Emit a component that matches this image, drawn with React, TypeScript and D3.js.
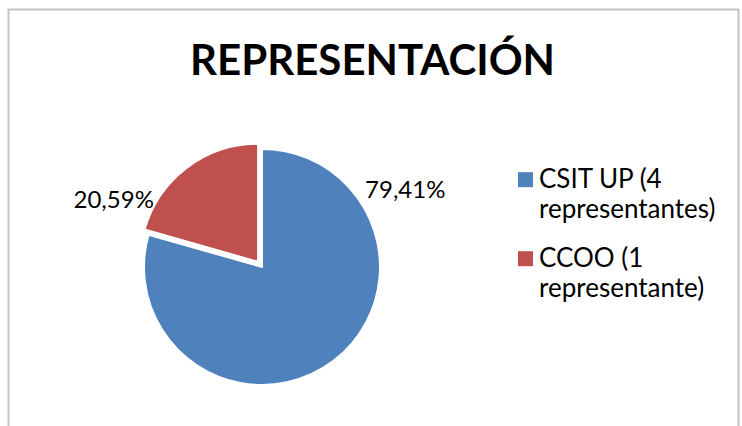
import React, { useEffect, useRef } from 'react';
import * as d3 from 'd3';

const title = 'REPRESENTACIÓN';
const categories = ['CSIT UP (4 representantes)', 'CCOO (1 representante)'];
const legendLines = [['CSIT UP (4', 'representantes)'], ['CCOO (1', 'representante)']];
const values = [79.41, 20.59];
const colors = ['#4F81BD', '#C0504D'];
const explode = [0, 6.5];
// where Excel put the labels (degrees clockwise from 12 o'clock)
const labelAngles = [61.5, 294.5];

const width = 742;
const height = 426;

export default function App() {
  const ref = useRef<SVGSVGElement>(null);

  useEffect(() => {
    const svg = d3.select(ref.current);
    svg.selectAll('*').remove();

    const cx = 262;
    const cy = 267;
    const radius = 118;
    const font = 'Lato, "Open Sans", sans-serif';

    // chart area border
    svg.append('rect')
      .attr('x', 8.5).attr('y', 9.5)
      .attr('width', 730).attr('height', 440)
      .attr('fill', 'white')
      .attr('stroke', '#c4c4c4')
      .attr('stroke-width', 2);

    svg.append('text')
      .attr('x', 372.5).attr('y', 75)
      .attr('text-anchor', 'middle')
      .style('font-family', font)
      .style('font-weight', 'bold')
      .style('font-size', '42px')
      .attr('fill', '#000')
      .text(title);

    const data = values.map((v, i) => ({ name: categories[i], value: v, color: colors[i], i }));

    const pie = d3.pie<any>().sort(null).value(d => d.value);
    const arcs = pie(data);
    const arc = d3.arc<any>().innerRadius(0).outerRadius(radius);

    const g = svg.append('g').attr('transform', `translate(${cx}, ${cy})`);

    g.selectAll('path')
      .data(arcs)
      .enter().append('path')
        .attr('transform', d => {
          const mid = (d.startAngle + d.endAngle) / 2;
          const off = explode[d.index];
          return `translate(${Math.sin(mid) * off}, ${-Math.cos(mid) * off})`;
        })
        .attr('d', arc)
        .attr('fill', d => d.data.color)
        .attr('stroke', 'white')
        .attr('stroke-width', 2)
        .attr('stroke-linejoin', 'round');

    const labelR = 163;
    g.selectAll('text.lbl')
      .data(arcs)
      .enter().append('text')
        .attr('class', 'lbl')
        .attr('x', d => Math.sin(labelAngles[d.index] * Math.PI / 180) * labelR)
        .attr('y', d => -Math.cos(labelAngles[d.index] * Math.PI / 180) * labelR)
        .attr('dy', '0.36em')
        .attr('text-anchor', 'middle')
        .style('font-family', font)
        .style('font-size', '24px')
        .attr('fill', '#000')
        .text(d => d3.format('.2f')(d.data.value).replace('.', ',') + '%');

    // legend
    const legend = svg.append('g');
    const item = legend.selectAll('g')
      .data(data)
      .enter().append('g')
        .attr('transform', d => `translate(518, ${187.7 + d.i * 79})`);

    item.append('rect')
      .attr('x', 0).attr('y', -15.5)
      .attr('width', 15).attr('height', 15)
      .attr('fill', d => d.color);

    const t = item.append('text')
      .style('font-family', font)
      .style('font-size', '26px')
      .attr('fill', '#000');
    t.selectAll('tspan')
      .data(d => legendLines[d.i])
      .enter().append('tspan')
        .attr('x', 21)
        .attr('y', (_, j) => j * 30.5)
        .text(d => d);
  }, []);

  return (
    <svg
      ref={ref}
      width={width}
      height={height}
      style={{ position: 'fixed', left: 0, top: 0, background: 'white' }}
    />
  );
}
